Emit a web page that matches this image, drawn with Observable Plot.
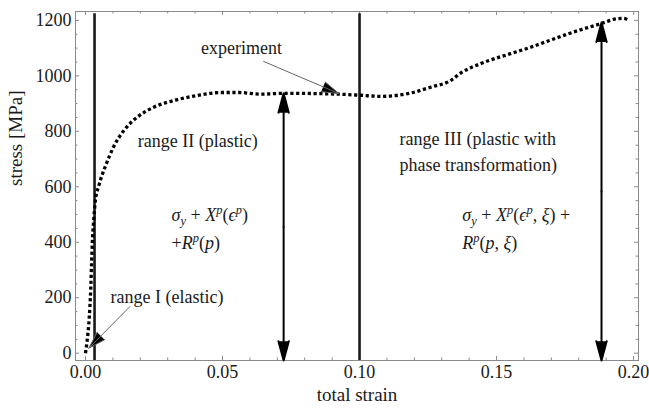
<!DOCTYPE html>
<html>
<head>
<meta charset="utf-8">
<script src="https://cdn.jsdelivr.net/npm/d3@7"></script>
<script src="https://cdn.jsdelivr.net/npm/@observablehq/plot@0.6"></script>
<style>
  html, body { margin: 0; padding: 0; background: white; }
  svg text { font-family: 'Liberation Serif', 'Times New Roman', serif !important; }
</style>
</head>
<body>
<div id="chart"></div>
<script>
// ---- data ----
const strain = [0, 0.0006, 0.0012, 0.0016, 0.0019, 0.0022, 0.0025, 0.0030, 0.0036, 0.0049,
  0.0073, 0.0103, 0.0140, 0.0189, 0.0249, 0.0322, 0.0408, 0.0493, 0.0560, 0.0639,
  0.0723, 0.0894, 0.1004, 0.1077, 0.1186, 0.1259, 0.1332, 0.1369, 0.1442, 0.1551,
  0.1624, 0.1661, 0.1781, 0.1880, 0.1942, 0.1964, 0.1982];
const stress = [0, 46, 106, 166, 230, 320, 400, 480, 550, 605,
  675, 745, 803, 851, 887, 911, 929, 940, 940, 934,
  937, 935, 930, 926, 938, 959, 983, 1010, 1044, 1080,
  1103, 1116, 1158, 1188, 1206, 1207, 1200];

const xTicks = [0, 0.05, 0.10, 0.15, 0.20];
const yTicks = [0, 200, 400, 600, 800, 1000, 1200];
const xMinorTicks = d3.range(0, 0.2001, 0.01);
const yMinorTicks = d3.range(0, 1201, 50);

const xDomain = [-0.00365, 0.2018];
const yDomain = [-26.3, 1232];

const boundaryStrain = [0.0033, 0.10];
const boundaryTop = 1224;

const arrowStrain = [0.0723, 0.1883];
const arrowStress = [937, 1192];

const pointerLabels = ["experiment", "range I (elastic)"];
const pointerFrom = [[0.0650, 1052], [0.0162, 168]];
const pointerTo = [[0.0925, 936], [0.0012, 18]];

const centerLabels = ["experiment"];
const centerX = [0.0569];
const centerY = [1099];

const leftLabels = ["range II (plastic)", "range I (elastic)",
  "range III (plastic with", "phase transformation)",
  "σ_y + X^p(ϵ^p)", "+R^p(p)",
  "σ_y + X^p(ϵ^p, ξ) +", "R^p(p, ξ)"];
const leftX = [0.0191, 0.0091, 0.1146, 0.1146, 0.0314, 0.0314, 0.1375, 0.1375];
const leftY = [763, 201, 771, 676, 497, 397, 497, 396];

// ---- derived tables ----
const curve = strain.map((s, i) => ({s, v: stress[i]}));
const cLabels = centerLabels.map((t, i) => ({t, x: centerX[i], y: centerY[i]}));
const lLabels = leftLabels.map((t, i) => ({t, x: leftX[i], y: leftY[i]}));
const dblArrows = arrowStrain.flatMap((x, i) => {
  const mid = (arrowStress[i] + yDomain[0]) / 2;
  return [{x, y1: mid, y2: arrowStress[i]}, {x, y1: mid, y2: yDomain[0]}];
});
const pointers = pointerLabels.map((n, i) => ({x1: pointerFrom[i][0], y1: pointerFrom[i][1], x2: pointerTo[i][0], y2: pointerTo[i][1]}));

const majX = 0.00146, minX = 0.0009;   // inward tick lengths in data units (~4px / ~2.5px)
const majY = 14.4, minY = 9;
const frameColor = "#8a8a8a";
const serif = "'Liberation Serif', 'Times New Roman', serif";
const isMajorX = d => xTicks.some(t => Math.abs(t - d) < 1e-9);

const plot = Plot.plot({
  width: 649,
  height: 413,
  marginLeft: 75,
  marginRight: 11,
  marginTop: 11,
  marginBottom: 53,
  style: {fontFamily: serif, fontSize: "18px", color: "#1a1a1a", background: "white"},
  x: {domain: xDomain},
  y: {domain: yDomain},
  marks: [
    Plot.frame({stroke: frameColor, strokeWidth: 1}),
    // inward ticks, bottom & top
    Plot.ruleX(xMinorTicks, {x: d => d, y1: yDomain[0], y2: d => yDomain[0] + (isMajorX(d) ? majY : minY), stroke: frameColor}),
    Plot.ruleX(xMinorTicks, {x: d => d, y1: yDomain[1], y2: d => yDomain[1] - (isMajorX(d) ? majY : minY), stroke: frameColor}),
    // inward ticks, left & right
    Plot.ruleY(yMinorTicks, {y: d => d, x1: xDomain[0], x2: d => xDomain[0] + (d % 200 === 0 ? majX : minX), stroke: frameColor}),
    Plot.ruleY(yMinorTicks, {y: d => d, x1: xDomain[1], x2: d => xDomain[1] - (d % 200 === 0 ? majX : minX), stroke: frameColor}),
    Plot.axisX({ticks: xTicks, tickFormat: d3.format(".2f"), tickSize: 0, tickPadding: 5, fontSize: 18, fontFamily: serif, label: null}),
    Plot.axisY({ticks: yTicks, tickFormat: d => String(d), tickSize: 0, tickPadding: 4, fontSize: 18, fontFamily: serif, label: null}),
    Plot.text(["total strain"], {frameAnchor: "bottom", dy: 40, fontSize: 19, fontFamily: serif}),
    Plot.text(["stress [MPa]"], {frameAnchor: "left", dx: -60, rotate: -90, fontSize: 19, fontFamily: serif}),
    // range boundaries
    Plot.ruleX(boundaryStrain, {x: d => d, y1: yDomain[0], y2: boundaryTop, stroke: "#1a1a1a", strokeWidth: 2.6}),
    // experiment curve (dotted)
    Plot.line(curve, {x: "s", y: "v", curve: "monotone-x", stroke: "black", strokeWidth: 3.3, strokeDasharray: "3.2,2.6", strokeLinecap: "butt"}),
    // double arrows
    Plot.arrow(dblArrows, {x1: "x", y1: "y1", x2: "x", y2: "y2", stroke: "black", fill: "black", strokeWidth: 2, headLength: 15, headAngle: 30}),
    // pointer arrows
    Plot.arrow(pointers, {x1: "x1", y1: "y1", x2: "x2", y2: "y2", stroke: "#666", fill: "black", strokeWidth: 1, headLength: 27, headAngle: 34}),
    // labels
    Plot.text(cLabels, {x: "x", y: "y", text: "t", textAnchor: "middle", fontSize: 18, fontFamily: serif}),
    Plot.text(lLabels, {x: "x", y: "y", text: "t", textAnchor: "start", fontSize: 18, fontFamily: serif})
  ]
});

// rich text for formulas: ^x superscript, _x subscript, letters italic
function richify(svg) {
  const ns = "http://www.w3.org/2000/svg";
  svg.querySelectorAll("text").forEach(t => {
    const s = t.textContent;
    if (!/[\^_]/.test(s)) return;
    const runs = [];
    let i = 0;
    while (i < s.length) {
      let mode = "n";
      let ch = s[i];
      if (ch === "^" || ch === "_") { mode = ch; i++; ch = s[i]; }
      i++;
      const italic = /[A-Za-z\u03B1-\u03C9\u03F5]/.test(ch);
      const last = runs[runs.length - 1];
      if (last && last.mode === mode && last.italic === italic && mode === "n") last.text += ch;
      else runs.push({mode, italic, text: ch});
    }
    t.textContent = "";
    let shift = 0;
    for (const r of runs) {
      const ts = document.createElementNS(ns, "tspan");
      if (r.italic) ts.setAttribute("font-style", "italic");
      const target = r.mode === "^" ? -7 : r.mode === "_" ? 4 : 0;
      if (target !== shift) { ts.setAttribute("dy", target - shift); shift = target; }
      if (r.mode !== "n") ts.setAttribute("font-size", "12.5");
      ts.textContent = r.text;
      t.appendChild(ts);
    }
  });
}
richify(plot);
document.getElementById("chart").appendChild(plot);
</script>
</body>
</html>
